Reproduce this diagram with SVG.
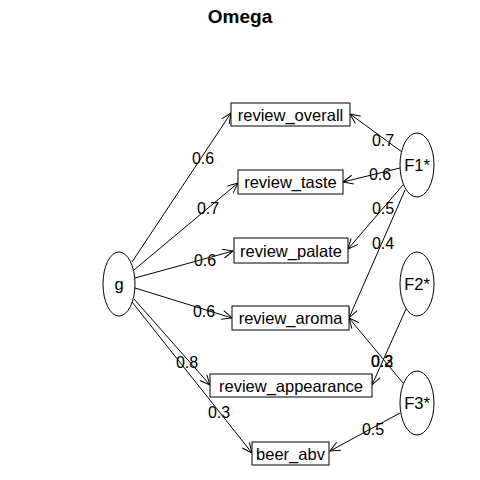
<svg xmlns="http://www.w3.org/2000/svg" width="480" height="480" viewBox="0 0 480 480">
<style>
text{font-family:"Liberation Sans",Arial,sans-serif;fill:#000}
.t{font-size:19px;font-weight:bold;text-anchor:middle}
.n{font-size:16.5px;text-anchor:middle}
.l{font-size:16px;text-anchor:middle}
.nd rect,.nd ellipse{fill:#fff;stroke:#000;stroke-width:1}
.e line{stroke:#000;stroke-width:1;marker-end:url(#a)}
</style>
<defs>
<marker id="a" viewBox="-11 -6 12 12" refX="0" refY="0" markerWidth="12" markerHeight="12" markerUnits="userSpaceOnUse" orient="auto">
<path d="M-10,-4.5 L0,0 L-10,4.5" fill="none" stroke="#000" stroke-width="1"/>
</marker>
</defs>
<rect width="480" height="480" fill="#fff"/>
<text class="t" x="240" y="23">Omega</text>
<g class="e" id="connectors">
<line x1="132" y1="262" x2="231" y2="113"/>
<line x1="134" y1="270" x2="238" y2="183"/>
<line x1="135" y1="278" x2="233" y2="251"/>
<line x1="135" y1="288" x2="232" y2="318"/>
<line x1="134" y1="299" x2="210" y2="385"/>
<line x1="132" y1="302" x2="252" y2="453"/>
<line x1="402" y1="152" x2="350" y2="114"/>
<line x1="400" y1="168" x2="343" y2="182"/>
<line x1="403" y1="185" x2="348" y2="249"/>
<line x1="405" y1="190" x2="349" y2="318"/>
<line x1="406" y1="309" x2="372" y2="385"/>
<line x1="403" y1="383" x2="349" y2="318"/>
<line x1="400" y1="413" x2="330" y2="451"/>
</g>
<g id="edge-labels">
<text class="l" x="203" y="164">0.6</text>
<text class="l" x="208" y="214">0.7</text>
<text class="l" x="205" y="266">0.6</text>
<text class="l" x="204" y="317">0.6</text>
<text class="l" x="187" y="368">0.8</text>
<text class="l" x="219" y="418">0.3</text>
<text class="l" x="383" y="146">0.7</text>
<text class="l" x="380" y="180">0.6</text>
<text class="l" x="383" y="214">0.5</text>
<text class="l" x="383" y="249">0.4</text>
<text class="l" x="382" y="367">0.3</text>
<text class="l" x="382" y="367">0.2</text>
<text class="l" x="373" y="435">0.5</text>
</g>
<g class="nd" id="review_overall"><rect x="231" y="103" width="119" height="23"/><text class="n" x="290.5" y="120.5">review_overall</text></g>
<g class="nd" id="review_taste"><rect x="238" y="170" width="105" height="24"/><text class="n" x="290.5" y="188">review_taste</text></g>
<g class="nd" id="review_palate"><rect x="234" y="238" width="114" height="25"/><text class="n" x="291" y="256.5">review_palate</text></g>
<g class="nd" id="review_aroma"><rect x="232" y="306" width="117" height="24"/><text class="n" x="290.5" y="324">review_aroma</text></g>
<g class="nd" id="review_appearance"><rect x="210" y="374" width="162" height="23"/><text class="n" x="291" y="391.5">review_appearance</text></g>
<g class="nd" id="beer_abv"><rect x="252" y="442" width="77" height="23"/><text class="n" x="290.5" y="459.5">beer_abv</text></g>
<g class="nd" id="g"><ellipse cx="119" cy="284" rx="16" ry="32"/><text class="n" x="119" y="290">g</text></g>
<g class="nd" id="F1"><ellipse cx="417" cy="165" rx="17" ry="32"/><text class="n" x="417" y="171">F1*</text></g>
<g class="nd" id="F2"><ellipse cx="417" cy="284" rx="17" ry="32"/><text class="n" x="417" y="290">F2*</text></g>
<g class="nd" id="F3"><ellipse cx="417" cy="403" rx="17" ry="32"/><text class="n" x="417" y="409">F3*</text></g>
</svg>
